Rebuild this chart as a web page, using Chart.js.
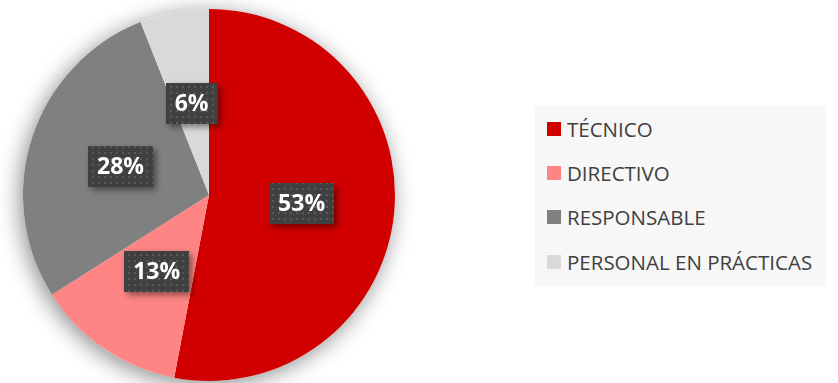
<!DOCTYPE html>
<html>
<head>
<meta charset="utf-8">
<script src="https://cdn.jsdelivr.net/npm/chart.js@4"></script>
<style>
  body { margin: 0; background: #fff; }
  #wrap { position: relative; width: 838px; height: 383px; }
  #pie { position: absolute; left: 0; top: 0; }
  #legend {
    position: absolute; left: 535px; top: 106px; width: 291px; height: 180px;
    background: #f7f7f7; color: #404040;
    font-family: 'Open Sans', sans-serif; font-size: 20.5px;
  }
  .item { position: absolute; left: 12px; height: 26px; display: flex; align-items: center; white-space: nowrap; }
  .swatch { width: 14px; height: 14px; margin-right: 6px; flex: none; }
</style>
</head>
<body>
<div id="wrap">
  <canvas id="pie" width="838" height="383"></canvas>
  <div id="legend"></div>
</div>
<script>
// ===== DATA =====
const categories = ['TÉCNICO', 'DIRECTIVO', 'RESPONSABLE', 'PERSONAL EN PRÁCTICAS'];
const shares = [53, 13, 28, 6];
const sliceColors = ['#d00000', '#ff8585', '#808080', '#d9d9d9'];

// dark label fill with a faint dot texture
function dotPattern(ctx) {
    const c = document.createElement('canvas');
    c.width = 6; c.height = 6;
    const p = c.getContext('2d');
    p.fillStyle = '#404040';
    p.fillRect(0, 0, 6, 6);
    p.fillStyle = '#595959';
    p.fillRect(2, 2, 2, 2);
    return ctx.createPattern(c, 'repeat');
}

// soft drop shadow behind the whole pie
const pieShadow = {
    id: 'pieShadow',
    beforeDatasetsDraw(chart) {
        const arc = chart.getDatasetMeta(0).data[0];
        if (!arc) return;
        const ctx = chart.ctx;
        ctx.save();
        ctx.shadowColor = 'rgba(0, 0, 0, 0.45)';
        ctx.shadowBlur = 22;
        ctx.shadowOffsetX = -3;
        ctx.shadowOffsetY = 4;
        ctx.fillStyle = '#ffffff';
        ctx.beginPath();
        ctx.arc(arc.x, arc.y, arc.outerRadius, 0, Math.PI * 2);
        ctx.fill();
        ctx.restore();
    }
};

// percentage boxes in the middle of each slice
const sliceLabels = {
    id: 'sliceLabels',
    afterDatasetsDraw(chart) {
        const ctx = chart.ctx;
        const fill = dotPattern(ctx);
        chart.getDatasetMeta(0).data.forEach((arc, i) => {
            const { x, y } = arc.tooltipPosition();
            const text = shares[i] + '%';
            ctx.save();
            ctx.font = 'bold 23px "Open Sans", sans-serif';
            const w = ctx.measureText(text).width + 18;
            const h = 41;
            ctx.shadowColor = 'rgba(0, 0, 0, 0.45)';
            ctx.shadowBlur = 6;
            ctx.shadowOffsetX = 3;
            ctx.shadowOffsetY = 3;
            ctx.fillStyle = fill;
            ctx.fillRect(Math.round(x - w / 2), Math.round(y - h / 2), Math.round(w), h);
            ctx.shadowColor = 'transparent';
            ctx.fillStyle = '#ffffff';
            ctx.textAlign = 'center';
            ctx.textBaseline = 'middle';
            ctx.fillText(text, x, y + 1);
            ctx.restore();
        });
    }
};

const chart = new Chart(document.getElementById('pie'), {
    type: 'pie',
    data: {
        labels: categories,
        datasets: [{
            data: shares,
            backgroundColor: sliceColors,
            borderWidth: 0
        }]
    },
    options: {
        responsive: false,
        animation: false,
        layout: { padding: { left: 22, right: 442, top: 9, bottom: 2 } },
        plugins: {
            legend: { display: false },
            tooltip: { enabled: false }
        }
    },
    plugins: [pieShadow, sliceLabels]
});

// ===== LEGEND =====
const legend = document.getElementById('legend');
const itemTops = [10, 54, 98, 143];
categories.forEach((name, i) => {
    const item = document.createElement('div');
    item.className = 'item';
    item.style.top = itemTops[i] + 'px';
    const sw = document.createElement('span');
    sw.className = 'swatch';
    sw.style.background = sliceColors[i];
    const label = document.createElement('span');
    label.textContent = name;
    item.appendChild(sw);
    item.appendChild(label);
    legend.appendChild(item);
});
</script>
</body>
</html>
